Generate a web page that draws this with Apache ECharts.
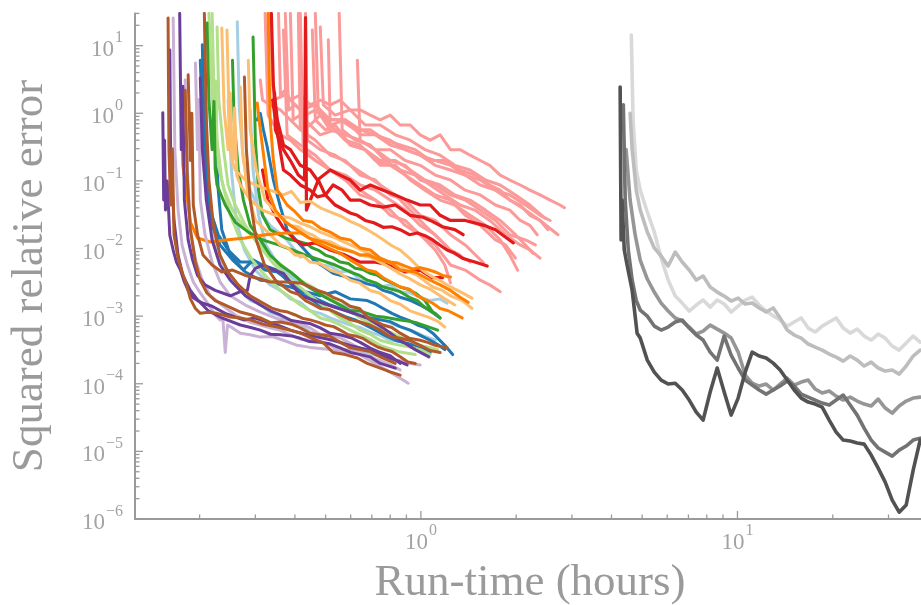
<!DOCTYPE html>
<html>
<head>
<meta charset="utf-8">
<script src="https://cdn.jsdelivr.net/npm/echarts@6/dist/echarts.min.js"></script>
<style>
  html, body { margin: 0; padding: 0; background: #ffffff; }
  #chart { width: 921px; height: 605px; }
</style>
</head>
<body>
<div id="chart"></div>
<script>
// Axis ranges (hours on x, squared relative error on y)
const xRange = [0.125, 38];
const yRange = [1e-6, 30];

// Tick positions
const xMajorTicks = [1, 10];
const xMinorTicks = [0.2, 0.3, 0.4, 0.5, 0.6, 0.7, 0.8, 0.9, 2, 3, 4, 5, 6, 7, 8, 9, 20, 30];
const yMajorTicks = [1e-6, 1e-5, 1e-4, 1e-3, 1e-2, 1e-1, 1, 10];
const yMinorMultipliers = [2, 3, 4, 5, 6, 7, 8, 9];

// Runs, grouped by configuration: each run is a list of [hours, error]
const lightBlueRuns = [
  [[0.263,22.5],[0.267,1.12],[0.275,0.2],[0.289,0.073],[0.311,0.0347],[0.334,0.022],[0.373,0.0143],[0.416,0.0075],[0.447,0.008],[0.481,0.0057],[0.517,0.0055],[0.556,0.0045],[0.598,0.0047],[0.643,0.0034],[0.692,0.0033],[0.744,0.0027],[0.8,0.0029],[0.86,0.0023],[0.925,0.0022],[0.995,0.0019],[1.07,0.0017],[1.15,0.0018],[1.21,0.00155]],
  [[0.205,4.0],[0.208,0.29],[0.213,0.052],[0.221,0.016],[0.232,0.0068],[0.259,0.0029],[0.289,0.0017],[0.311,0.0015],[0.334,0.00114],[0.36,0.001],[0.387,8.2e-4],[0.416,7.6e-4],[0.447,5.8e-4],[0.481,5.4e-4],[0.517,4.4e-4],[0.556,4.1e-4],[0.598,3.5e-4],[0.643,3.1e-4],[0.692,2.7e-4],[0.744,2.6e-4],[0.818,2.2e-4]],
  [[0.246,1.57],[0.252,0.145],[0.261,0.026],[0.277,0.0095],[0.3,0.0048],[0.334,0.0029],[0.36,0.0024],[0.387,0.0018],[0.416,0.0016],[0.447,0.0012],[0.481,0.0011],[0.517,9.4e-4],[0.556,8.3e-4],[0.598,7.4e-4],[0.643,6.8e-4],[0.692,5.8e-4],[0.744,5.2e-4],[0.8,4.4e-4],[0.86,4.3e-4],[0.925,4.0e-4],[1.0,3.6e-4],[1.07,3.4e-4]],
  [[0.289,1.12],[0.295,0.145],[0.307,0.031],[0.324,0.0113],[0.355,0.0057],[0.38,0.0042],[0.401,0.0034],[0.43,0.0029],[0.464,0.0023],[0.5,0.0019],[0.536,0.0016],[0.577,0.0014],[0.62,0.0012],[0.667,0.0011],[0.718,9.4e-4],[0.77,8.6e-4],[0.83,7.4e-4],[0.89,6.6e-4],[0.96,5.8e-4],[1.03,5.0e-4],[1.11,4.4e-4]]
];

const blueRuns = [
  [[0.204,10.3],[0.207,0.4],[0.209,1.3],[0.21,0.12],[0.211,0.073],[0.219,0.022],[0.232,0.0113],[0.254,0.0068],[0.279,0.0045],[0.311,0.0034],[0.335,0.0033],[0.36,0.0029],[0.387,0.0027],[0.416,0.0024],[0.447,0.0022],[0.481,0.002],[0.536,0.0023],[0.598,0.0018],[0.677,0.0017],[0.72,0.0015],[0.76,0.0013],[0.81,0.0011],[0.86,9.7e-4],[0.92,8.6e-4],[0.975,7.4e-4],[1.03,6.8e-4],[1.09,5.6e-4],[1.19,3.7e-4],[1.26,2.7e-4]],
  [[0.304,0.8],[0.311,1.0],[0.318,0.57],[0.327,0.317],[0.342,0.103],[0.36,0.041],[0.378,0.019],[0.407,0.0126],[0.43,0.0095],[0.457,0.0068],[0.49,0.0055],[0.528,0.0043],[0.56,0.004],[0.598,0.0036],[0.64,0.0033],[0.677,0.003],[0.72,0.0028],[0.76,0.0024],[0.81,0.0022],[0.86,0.0019],[0.93,0.0017],[0.995,0.00146],[1.07,0.0012],[1.15,9.4e-4]],
  [[0.201,6.1],[0.204,0.8],[0.208,0.145],[0.216,0.037],[0.229,0.016],[0.246,0.0095],[0.269,0.0063],[0.295,0.0063],[0.322,0.0048],[0.352,0.0045],[0.387,0.0032],[0.416,0.0026],[0.447,0.002],[0.481,0.0017],[0.517,0.00146],[0.556,0.0013],[0.598,0.00115],[0.643,0.001],[0.692,9.4e-4],[0.744,8.8e-4],[0.8,8.3e-4],[0.86,7.0e-4],[0.925,6.2e-4],[0.995,5.2e-4],[1.07,4.4e-4],[1.13,3.8e-4],[1.19,3.2e-4]],
  [[0.224,0.57],[0.229,0.073],[0.235,0.019],[0.25,0.008],[0.275,0.0048],[0.295,0.0068],[0.316,0.0057],[0.352,0.0048],[0.375,0.0035],[0.401,0.0026],[0.43,0.002],[0.464,0.0016],[0.5,0.0013],[0.536,0.00115],[0.577,9.8e-4],[0.62,8.8e-4],[0.667,7.4e-4],[0.718,6.2e-4],[0.77,5.2e-4],[0.83,4.4e-4],[0.89,4.0e-4],[0.96,3.7e-4],[1.07,2.9e-4]]
];

const lightGreenRuns = [
  [[0.214,30],[0.218,3.1],[0.222,0.57],[0.225,3.0],[0.227,0.3],[0.229,0.17],[0.239,0.073],[0.254,0.037],[0.273,0.022],[0.3,0.0134],[0.334,0.008],[0.373,0.0051],[0.416,0.0034],[0.447,0.0028],[0.481,0.0023],[0.517,0.0018],[0.556,0.00146],[0.598,0.0012],[0.643,9.4e-4],[0.692,8.0e-4],[0.728,6.7e-4],[0.8,5.8e-4],[0.86,4.9e-4],[0.925,4.3e-4],[0.995,3.7e-4],[1.07,3.4e-4],[1.13,3.2e-4]],
  [[0.227,18.9],[0.23,1.57],[0.238,0.29],[0.246,0.087],[0.259,0.044],[0.279,0.022],[0.307,0.0113],[0.339,0.0063],[0.381,0.0037],[0.432,0.0023],[0.488,0.00146],[0.556,9.4e-4],[0.6,7.8e-4],[0.643,6.2e-4],[0.692,5.4e-4],[0.744,4.4e-4],[0.8,4.0e-4],[0.86,3.7e-4],[0.925,3.5e-4],[0.995,3.2e-4],[1.07,2.7e-4]],
  [[0.219,30],[0.222,2.2],[0.227,0.4],[0.235,0.103],[0.25,0.031],[0.269,0.0134],[0.293,0.0068],[0.322,0.004],[0.36,0.0024],[0.387,0.0019],[0.416,0.00146],[0.447,0.0012],[0.481,9.4e-4],[0.517,8.6e-4],[0.556,7.4e-4],[0.598,6.2e-4],[0.643,5.3e-4],[0.692,4.5e-4],[0.744,3.7e-4],[0.8,3.3e-4],[0.86,2.94e-4],[0.96,2.7e-4]]
];

const greenRuns = [
  [[0.211,21.7],[0.214,1.57],[0.219,0.29],[0.222,1.5],[0.224,0.15],[0.227,0.087],[0.241,0.044],[0.259,0.0246],[0.285,0.0175],[0.316,0.0134],[0.355,0.0113],[0.393,0.0095],[0.432,0.008],[0.481,0.0068],[0.536,0.0057],[0.598,0.0045],[0.64,0.004],[0.677,0.0034],[0.72,0.0031],[0.76,0.0027],[0.81,0.0025],[0.86,0.0023],[0.92,0.0019],[0.975,0.0017],[1.02,0.0014],[1.07,0.0012],[1.11,0.0011],[1.15,9.4e-4]],
  [[0.254,6.1],[0.257,0.8],[0.265,0.145],[0.275,0.052],[0.289,0.022],[0.311,0.0134],[0.334,0.008],[0.36,0.0057],[0.387,0.0045],[0.41,0.0036],[0.432,0.0029],[0.455,0.0025],[0.481,0.0021],[0.51,0.0018],[0.536,0.0016],[0.565,0.0014],[0.598,0.0012],[0.64,0.0012],[0.677,0.0011],[0.72,0.001],[0.76,9.7e-4],[0.81,9.2e-4],[0.86,8.8e-4],[0.92,8.4e-4],[0.975,7.9e-4],[1.05,7.0e-4],[1.13,6.2e-4]],
  [[0.295,13.4],[0.3,0.4],[0.307,0.073],[0.316,0.031],[0.334,0.019],[0.373,0.0143],[0.39,0.0135],[0.416,0.0125],[0.435,0.0118],[0.454,0.0102],[0.475,0.0094],[0.499,0.008],[0.525,0.0074],[0.556,0.0063],[0.59,0.006],[0.62,0.0051],[0.655,0.0049],[0.692,0.0043],[0.73,0.004],[0.772,0.0034],[0.81,0.0031],[0.86,0.0027],[0.91,0.0025],[0.96,0.0022],[1.03,0.0017],[1.09,0.00115]]
];

const pinkRuns = [
  [[0.355,30],[0.36,1.87],[0.373,2.2],[0.387,1.57],[0.416,1.87],[0.447,1.33],[0.481,1.57],[0.517,1.33],[0.556,1.57],[0.598,1.12],[0.643,1.12],[0.692,0.94],[0.744,0.8],[0.8,0.94],[0.86,0.67],[0.925,0.67],[0.995,0.48],[1.07,0.4],[1.15,0.48],[1.24,0.29],[1.33,0.29],[1.43,0.24],[1.54,0.2],[1.65,0.17],[1.78,0.122],[1.91,0.103],[2.06,0.087],[2.21,0.073],[2.38,0.062],[2.56,0.052],[2.75,0.044],[2.84,0.04]],
  [[0.373,30],[0.382,1.12],[0.401,1.33],[0.432,0.94],[0.464,1.12],[0.499,0.8],[0.556,0.8],[0.62,0.57],[0.692,0.57],[0.772,0.4],[0.86,0.34],[0.96,0.29],[1.07,0.2],[1.19,0.2],[1.33,0.145],[1.48,0.122],[1.65,0.087],[1.78,0.073],[1.91,0.052],[2.06,0.044],[2.21,0.031],[2.38,0.026],[2.52,0.019]],
  [[0.387,30],[0.395,0.8],[0.416,0.94],[0.447,0.67],[0.481,0.94],[0.517,0.57],[0.577,0.48],[0.643,0.4],[0.718,0.29],[0.8,0.29],[0.892,0.2],[0.995,0.17],[1.11,0.122],[1.24,0.103],[1.38,0.073],[1.54,0.062],[1.72,0.044],[1.91,0.037],[2.06,0.026],[2.21,0.022],[2.33,0.016]],
  [[0.41,30],[0.416,0.57],[0.447,0.67],[0.481,0.48],[0.536,0.57],[0.598,0.34],[0.667,0.29],[0.744,0.2],[0.83,0.2],[0.925,0.145],[1.03,0.103],[1.15,0.087],[1.28,0.062],[1.43,0.052],[1.6,0.037],[1.78,0.026],[1.99,0.016],[2.14,0.0113],[2.26,0.0085]],
  [[0.454,17],[0.464,0.8],[0.499,0.57],[0.536,0.67],[0.598,0.34],[0.667,0.29],[0.744,0.17],[0.83,0.17],[0.925,0.103],[1.03,0.073],[1.15,0.052],[1.28,0.044],[1.43,0.031],[1.6,0.022],[1.78,0.0134],[1.91,0.008],[2.02,0.0048]],
  [[0.481,18.9],[0.492,1.33],[0.536,0.94],[0.598,1.12],[0.667,0.67],[0.744,0.67],[0.83,0.48],[0.925,0.4],[1.03,0.29],[1.15,0.24],[1.28,0.17],[1.43,0.145],[1.6,0.103],[1.78,0.087],[1.99,0.062],[2.21,0.044],[2.47,0.028]],
  [[0.51,12.2],[0.517,0.67],[0.577,0.4],[0.643,0.34],[0.718,0.2],[0.8,0.17],[0.892,0.122],[0.995,0.087],[1.11,0.062],[1.24,0.052],[1.38,0.031],[1.54,0.022],[1.72,0.0134],[1.85,0.0113],[1.99,0.0072]],
  [[0.552,30],[0.564,0.57],[0.62,0.4],[0.692,0.34],[0.772,0.2],[0.86,0.145],[0.96,0.122],[1.07,0.087],[1.19,0.062],[1.33,0.044],[1.48,0.037],[1.65,0.026],[1.85,0.016],[2.06,0.0113],[2.21,0.0095],[2.38,0.0072]],
  [[0.63,6.1],[0.643,0.4],[0.718,0.29],[0.8,0.2],[0.892,0.17],[0.995,0.103],[1.11,0.087],[1.24,0.062],[1.38,0.052],[1.54,0.037],[1.72,0.026],[1.91,0.016],[2.14,0.0134],[2.3,0.0113]],
  [[0.311,3.1],[0.316,1.57],[0.334,1.33],[0.36,1.12],[0.387,0.8],[0.416,0.57],[0.464,0.4],[0.517,0.24],[0.577,0.2],[0.643,0.122],[0.718,0.103],[0.8,0.062],[0.892,0.052],[0.995,0.031],[1.11,0.026],[1.24,0.016],[1.38,0.0113],[1.58,0.0061]],
  [[0.322,30],[0.329,0.94],[0.36,0.48],[0.387,0.4],[0.416,0.29],[0.464,0.2],[0.517,0.145],[0.577,0.122],[0.643,0.087],[0.718,0.073],[0.8,0.052],[0.892,0.037],[0.995,0.022],[1.11,0.016],[1.24,0.0095],[1.43,0.0063]],
  [[0.416,30],[0.425,0.29],[0.464,0.2],[0.517,0.145],[0.577,0.103],[0.643,0.062],[0.718,0.052],[0.8,0.031],[0.892,0.026],[0.995,0.016],[1.11,0.0113],[1.24,0.0057],[1.38,0.0048],[1.54,0.0034],[1.65,0.0029],[1.78,0.0023]],
  [[0.432,30],[0.438,0.4],[0.481,0.29],[0.536,0.24],[0.598,0.17],[0.667,0.122],[0.744,0.087],[0.83,0.062],[0.925,0.037],[1.03,0.022],[1.15,0.0134],[1.24,0.0095],[1.33,0.008]],
  [[0.368,17],[0.378,0.48],[0.416,0.34],[0.464,0.24],[0.517,0.145],[0.577,0.103],[0.643,0.073],[0.718,0.052],[0.8,0.037],[0.892,0.022],[0.995,0.016],[1.11,0.0095],[1.19,0.0057],[1.24,0.0031]],
  [[0.334,30],[0.342,1.57],[0.373,1.87],[0.416,1.12],[0.464,1.33],[0.517,0.8],[0.577,0.8],[0.643,0.57],[0.718,0.48],[0.8,0.4],[0.892,0.29],[0.995,0.24],[1.11,0.2],[1.24,0.17],[1.38,0.122],[1.54,0.103],[1.72,0.073],[1.91,0.062],[2.14,0.044],[2.38,0.031],[2.56,0.026]],
  [[0.464,30],[0.474,1.12],[0.517,0.67],[0.577,0.8],[0.643,0.48],[0.718,0.48],[0.8,0.34],[0.892,0.29],[0.995,0.24],[1.11,0.17],[1.24,0.145],[1.38,0.122],[1.54,0.087],[1.72,0.073],[1.91,0.052],[2.14,0.037],[2.38,0.026],[2.71,0.016]]
];

const redRuns = [
  [[0.337,30],[0.342,2.6],[0.352,0.8],[0.368,0.34],[0.387,0.29],[0.416,0.17],[0.447,0.145],[0.471,0.103],[0.517,0.145],[0.556,0.122],[0.598,0.103],[0.643,0.073],[0.692,0.087],[0.76,0.073],[0.83,0.062],[0.905,0.052],[0.995,0.044],[1.07,0.044],[1.15,0.031],[1.24,0.026],[1.38,0.026],[1.58,0.022],[1.72,0.019],[1.96,0.0121]],
  [[0.345,2.0],[0.347,0.57],[0.368,0.29],[0.387,0.2],[0.41,0.122],[0.429,0.103],[0.432,26],[0.435,0.037],[0.454,0.062],[0.474,0.103],[0.499,0.062],[0.528,0.087],[0.564,0.073],[0.598,0.052],[0.643,0.052],[0.692,0.044],[0.76,0.041],[0.83,0.044],[0.925,0.031],[1.015,0.029],[1.09,0.025],[1.17,0.021],[1.28,0.019],[1.36,0.016]],
  [[0.34,1.57],[0.355,0.4],[0.368,0.145],[0.387,0.122],[0.416,0.087],[0.447,0.073],[0.471,0.058],[0.499,0.062],[0.536,0.044],[0.598,0.0335],[0.63,0.031],[0.667,0.026],[0.71,0.024],[0.76,0.0206],[0.81,0.021],[0.86,0.019],[0.92,0.016],[0.975,0.017],[1.03,0.0155],[1.09,0.0134],[1.15,0.0112],[1.21,0.0095],[1.28,0.0085],[1.36,0.0071],[1.48,0.0063],[1.62,0.0055]],
  [[0.316,0.145],[0.329,0.052],[0.347,0.031],[0.368,0.0201],[0.401,0.0134],[0.425,0.0113],[0.464,0.0121],[0.517,0.0095],[0.577,0.008],[0.643,0.0063],[0.718,0.0063],[0.8,0.0057],[0.892,0.0045],[0.995,0.0048],[1.085,0.0037],[1.17,0.0037]]
];

const lightOrangeRuns = [
  [[0.235,18.3],[0.239,1.12],[0.246,0.29],[0.25,2.0],[0.253,0.2],[0.259,0.145],[0.279,0.103],[0.3,0.087],[0.334,0.073],[0.368,0.062],[0.39,0.07],[0.416,0.048],[0.447,0.05],[0.481,0.04],[0.528,0.0335],[0.56,0.03],[0.6,0.025],[0.64,0.022],[0.677,0.019],[0.72,0.016],[0.76,0.0135],[0.81,0.011],[0.86,0.0095],[0.92,0.0072],[0.975,0.0055],[1.03,0.0045],[1.09,0.0038],[1.17,0.0032],[1.24,0.0027],[1.33,0.0023],[1.45,0.00185]],
  [[0.244,17.1],[0.248,0.8],[0.255,0.2],[0.258,1.2],[0.262,0.12],[0.269,0.087],[0.289,0.052],[0.316,0.037],[0.347,0.031],[0.387,0.0283],[0.416,0.0238],[0.447,0.021],[0.481,0.0175],[0.528,0.0148],[0.57,0.0125],[0.6,0.0113],[0.64,0.0098],[0.677,0.0086],[0.72,0.0078],[0.76,0.0068],[0.81,0.006],[0.86,0.0052],[0.92,0.0045],[0.975,0.004],[1.03,0.0033],[1.09,0.0027],[1.17,0.0024],[1.24,0.002],[1.35,0.0017],[1.45,0.0013]],
  [[0.269,2.45],[0.273,0.29],[0.283,0.073],[0.3,0.026],[0.322,0.019],[0.36,0.0113],[0.38,0.0102],[0.401,0.008],[0.425,0.0078],[0.447,0.0063],[0.48,0.006],[0.517,0.0048],[0.555,0.0043],[0.598,0.0034],[0.64,0.0031],[0.692,0.0024],[0.74,0.0022],[0.8,0.0017],[0.86,0.0015],[0.925,0.0012],[1.0,0.00105],[1.07,9.4e-4],[1.13,8.4e-4],[1.19,6.9e-4]],
  [[0.285,6.1],[0.289,0.57],[0.302,0.145],[0.322,0.052],[0.355,0.031],[0.387,0.022],[0.41,0.021],[0.432,0.0175],[0.455,0.0158],[0.481,0.0134],[0.52,0.0125],[0.556,0.0105],[0.6,0.0093],[0.643,0.008],[0.69,0.0075],[0.744,0.0063],[0.8,0.0052],[0.86,0.0042],[0.92,0.0036],[0.995,0.0029],[1.07,0.0025],[1.15,0.002],[1.28,0.00146]]
];

const orangeRuns = [
  [[0.329,30],[0.334,0.8],[0.342,0.2],[0.352,0.073],[0.378,0.044],[0.401,0.0347],[0.425,0.026],[0.454,0.0246],[0.481,0.0201],[0.517,0.0175],[0.556,0.0143],[0.598,0.0134],[0.643,0.0102],[0.692,0.0095],[0.744,0.0072],[0.8,0.0063],[0.86,0.0048],[0.96,0.0045],[1.07,0.0034],[1.15,0.0029],[1.24,0.0024],[1.33,0.0019],[1.41,0.0016]],
  [[0.175,0.8],[0.177,0.17],[0.183,0.052],[0.187,0.0246],[0.197,0.0143],[0.216,0.0125],[0.241,0.0134],[0.279,0.0143],[0.322,0.016],[0.373,0.017],[0.416,0.017],[0.44,0.0148],[0.464,0.0125],[0.528,0.0095],[0.56,0.0083],[0.598,0.0068],[0.677,0.0048],[0.72,0.0045],[0.76,0.0037],[0.86,0.0027],[0.92,0.0025],[0.975,0.002],[1.09,0.00155],[1.15,0.0013],[1.22,0.0012],[1.35,9.4e-4]],
  [[0.304,1.42],[0.311,0.57],[0.32,0.2],[0.329,0.073],[0.347,0.037],[0.373,0.0246],[0.416,0.0175],[0.44,0.0145],[0.464,0.0134],[0.49,0.0125],[0.517,0.0113],[0.545,0.0102],[0.577,0.0095],[0.61,0.0089],[0.643,0.008],[0.68,0.0081],[0.718,0.0072],[0.76,0.0066],[0.8,0.0063],[0.845,0.0061],[0.892,0.0055],[0.94,0.005],[0.995,0.0052],[1.05,0.0049],[1.11,0.0045],[1.17,0.004],[1.24,0.0038]]
];

const lightPurpleRuns = [
  [[0.165,25.7],[0.167,0.29],[0.171,0.037],[0.176,0.0113],[0.183,0.0057],[0.191,0.0032],[0.201,0.0022],[0.213,0.0015],[0.224,0.00104],[0.232,8.8e-4],[0.237,8.8e-4],[0.241,2.9e-4],[0.245,7.4e-4],[0.254,6.7e-4],[0.269,5.6e-4],[0.289,5.3e-4],[0.311,4.9e-4],[0.339,5.0e-4],[0.368,4.4e-4],[0.407,3.7e-4],[0.447,3.45e-4],[0.517,3.2e-4],[0.577,2.9e-4],[0.63,2.8e-4],[0.692,2.2e-4],[0.76,1.7e-4],[0.83,1.34e-4],[0.912,1.02e-4]],
  [[0.194,5.55],[0.197,0.29],[0.199,1.6],[0.201,0.052],[0.208,0.016],[0.219,0.0063],[0.232,0.0032],[0.25,0.002],[0.279,0.00146],[0.311,0.00115],[0.347,9.4e-4],[0.387,8.1e-4],[0.42,7.6e-4],[0.447,6.7e-4],[0.48,5.4e-4],[0.517,5.3e-4],[0.555,4.8e-4],[0.598,4.0e-4],[0.645,3.3e-4],[0.692,3.2e-4],[0.745,2.9e-4],[0.8,2.3e-4],[0.86,2.2e-4],[0.925,2.0e-4],[0.995,1.9e-4]],
  [[0.18,3.1],[0.183,0.145],[0.187,0.019],[0.194,0.0068],[0.204,0.0034],[0.216,0.002],[0.235,0.00146],[0.259,0.00104],[0.289,8.1e-4],[0.334,6.7e-4],[0.36,6.2e-4],[0.387,5.3e-4],[0.415,4.6e-4],[0.447,4.4e-4],[0.48,4.3e-4],[0.517,3.7e-4],[0.555,3.1e-4],[0.598,3.2e-4],[0.645,2.9e-4],[0.692,2.5e-4],[0.745,2.2e-4],[0.8,1.9e-4],[0.86,1.6e-4]]
];

const purpleRuns = [
  [[0.153,1.02],[0.154,0.052],[0.155,0.4],[0.156,0.037],[0.158,0.1],[0.161,0.0158],[0.165,0.0095],[0.169,0.0063],[0.174,0.0048],[0.179,0.0032],[0.184,0.0024],[0.19,0.0019],[0.197,0.0017],[0.205,0.00155],[0.219,0.0014],[0.241,0.0011],[0.275,8.8e-4],[0.3,9.4e-4],[0.327,8.2e-4],[0.36,7.1e-4],[0.387,6.2e-4],[0.432,5.4e-4],[0.471,4.9e-4],[0.528,4.4e-4],[0.598,3.7e-4],[0.677,3.2e-4],[0.772,2.5e-4],[0.842,2.2e-4],[0.905,1.9e-4]],
  [[0.173,30],[0.175,0.29],[0.177,2.5],[0.179,0.052],[0.184,0.0134],[0.19,0.0068],[0.197,0.004],[0.208,0.0029],[0.224,0.0024],[0.25,0.002],[0.269,0.0023],[0.283,0.0024],[0.289,0.004],[0.3,0.0051],[0.316,0.0057],[0.334,0.0051],[0.368,0.0043],[0.393,0.0029],[0.416,0.002],[0.464,0.0017],[0.528,0.00137],[0.598,0.00115],[0.677,9.4e-4],[0.76,6.7e-4],[0.86,4.4e-4],[0.96,3.2e-4],[1.06,2.5e-4]],
  [[0.201,3.33],[0.204,0.29],[0.21,0.052],[0.219,0.0134],[0.232,0.0057],[0.25,0.0034],[0.279,0.002],[0.311,0.00146],[0.335,0.0012],[0.36,0.00104],[0.39,8.6e-4],[0.416,8.2e-4],[0.445,7.8e-4],[0.481,6.7e-4],[0.515,5.6e-4],[0.556,5.3e-4],[0.6,4.8e-4],[0.643,4.1e-4],[0.69,3.4e-4],[0.744,2.9e-4],[0.8,2.6e-4],[0.86,2.0e-4]],
  [[0.161,8.6],[0.162,0.2],[0.166,0.026],[0.171,0.008],[0.177,0.004],[0.187,0.0024],[0.198,0.0017],[0.213,0.0012],[0.235,9.4e-4],[0.269,7.4e-4],[0.29,6.8e-4],[0.311,6.2e-4],[0.335,5.4e-4],[0.36,5.3e-4],[0.39,5.1e-4],[0.416,4.7e-4],[0.445,4.2e-4],[0.481,4.1e-4],[0.515,3.9e-4],[0.556,3.4e-4],[0.6,2.9e-4],[0.643,2.7e-4],[0.69,2.5e-4],[0.744,2.0e-4],[0.83,1.7e-4]]
];

const brownRuns = [
  [[0.159,25.7],[0.16,0.29],[0.162,0.044],[0.164,0.3],[0.166,0.016],[0.171,0.0072],[0.176,0.0045],[0.182,0.0029],[0.187,0.0018],[0.194,0.0013],[0.201,0.0011],[0.213,0.00114],[0.227,0.0011],[0.25,9.7e-4],[0.269,9.4e-4],[0.289,8.8e-4],[0.318,7.6e-4],[0.352,6.9e-4],[0.387,6.2e-4],[0.416,5.6e-4],[0.454,4.7e-4],[0.492,4.0e-4],[0.528,2.9e-4],[0.577,2.7e-4],[0.63,2.4e-4],[0.677,2.0e-4],[0.744,1.7e-4],[0.8,1.5e-4],[0.86,1.34e-4]],
  [[0.184,3.7],[0.187,0.2],[0.189,1.0],[0.191,0.044],[0.197,0.016],[0.205,0.008],[0.219,0.0057],[0.235,0.0045],[0.254,0.0048],[0.279,0.004],[0.307,0.0036],[0.334,0.0032],[0.373,0.0032],[0.416,0.0031],[0.44,0.0028],[0.471,0.0024],[0.5,0.0022],[0.528,0.0019],[0.56,0.0017],[0.598,0.0014],[0.64,0.0013],[0.677,9.7e-4],[0.72,8.4e-4],[0.76,7.4e-4],[0.81,6.8e-4],[0.86,5.6e-4],[0.92,4.7e-4],[0.995,4.4e-4],[1.05,4.1e-4],[1.11,3.7e-4],[1.21,3.4e-4]],
  [[0.207,30],[0.21,0.8],[0.214,0.103],[0.221,0.022],[0.232,0.008],[0.246,0.0045],[0.265,0.0029],[0.289,0.002],[0.322,0.0015],[0.34,0.0013],[0.36,0.0012],[0.38,0.00115],[0.401,0.00104],[0.425,9.2e-4],[0.447,8.8e-4],[0.475,8.1e-4],[0.499,7.4e-4],[0.53,7.0e-4],[0.556,6.2e-4],[0.59,5.3e-4],[0.62,5.1e-4],[0.655,4.7e-4],[0.692,4.0e-4],[0.73,3.5e-4],[0.772,3.2e-4],[0.81,3.0e-4],[0.86,2.5e-4],[0.91,2.1e-4],[0.96,2.0e-4]],
  [[0.277,3.44],[0.281,0.29],[0.289,0.052],[0.302,0.0134],[0.32,0.0059],[0.347,0.0034],[0.387,0.0023],[0.41,0.0021],[0.432,0.0017],[0.455,0.0015],[0.481,0.0013],[0.515,0.00125],[0.556,0.00104],[0.6,8.8e-4],[0.643,8.2e-4],[0.69,7.4e-4],[0.744,6.2e-4],[0.8,5.0e-4],[0.86,4.7e-4],[0.92,4.4e-4],[0.995,3.7e-4],[1.07,3.1e-4],[1.15,2.9e-4]],
  [[0.18,2.2],[0.183,0.103],[0.187,0.019],[0.194,0.0063],[0.201,0.0034],[0.211,0.0022],[0.224,0.0017],[0.241,0.00146],[0.269,0.00115],[0.29,1.05e-3],[0.311,9.4e-4],[0.335,8.0e-4],[0.36,8.2e-4],[0.39,7.6e-4],[0.416,6.7e-4],[0.445,5.6e-4],[0.481,5.3e-4],[0.515,5.1e-4],[0.556,4.1e-4],[0.6,3.4e-4],[0.643,3.2e-4],[0.69,3.0e-4],[0.744,2.5e-4],[0.83,2.0e-4]]
];

// Long baseline runs, lightest to darkest
const baselineRuns = [
  [[4.62,14.4],[4.68,0.8],[4.79,0.145],[4.93,0.0733],[5.19,0.0347],[5.46,0.0176],[5.74,0.00724],[6.04,0.00342],[6.36,0.00198],[6.69,0.00156],[7.04,0.00119],[7.41,0.00146],[7.79,0.00173],[8.20,0.00136],[8.63,0.00173],[9.08,0.00151],[9.55,0.00115],[10.05,0.00141],[10.58,0.00173],[11.13,0.00191],[11.71,0.00146],[12.32,0.00119],[12.97,0.00101],[13.64,8.76e-4],[14.36,7.13e-4],[15.11,8.18e-4],[15.90,9.39e-4],[16.73,6.66e-4],[17.60,5.82e-4],[18.52,7.13e-4],[19.49,8.18e-4],[20.50,9.39e-4],[21.58,6.66e-4],[22.70,5.62e-4],[23.89,6.44e-4],[25.13,5.07e-4],[26.45,4.43e-4],[27.83,5.44e-4],[29.29,4.74e-4],[30.82,3.61e-4],[32.42,3.15e-4],[34.12,4.0e-4],[35.90,5.07e-4],[37.77,4.14e-4]],
  [[4.58,1.0],[4.65,0.29],[4.79,0.073],[4.93,0.0371],[5.19,0.0176],[5.46,0.0102],[5.74,0.00775],[6.04,0.00551],[6.36,0.00887],[6.69,0.00631],[7.04,0.00481],[7.41,0.00342],[7.79,0.00392],[8.20,0.00269],[8.63,0.00227],[9.08,0.00198],[9.55,0.00167],[10.05,0.00185],[10.58,0.00151],[11.13,0.00156],[11.71,0.00132],[12.32,0.00115],[12.97,0.00132],[13.64,9.39e-4],[14.36,6.23e-4],[15.11,5.25e-4],[15.90,4.74e-4],[16.73,3.87e-4],[17.60,3.49e-4],[18.52,3.15e-4],[19.49,2.75e-4],[20.50,2.48e-4],[21.58,2.16e-4],[22.70,2.57e-4],[23.89,2.24e-4],[25.13,1.83e-4],[26.45,2.09e-4],[27.83,1.71e-4],[29.29,1.54e-4],[30.82,1.595e-4],[32.42,1.39e-4],[34.12,1.83e-4],[35.90,2.57e-4],[37.77,3.15e-4]],
  [[4.45,0.29],[4.58,0.052],[4.75,0.016],[4.93,0.00676],[5.19,0.00354],[5.46,0.00227],[5.74,0.00156],[6.04,0.00119],[6.36,9.39e-4],[6.69,8.47e-4],[7.04,6.89e-4],[7.41,5.44e-4],[7.79,6.02e-4],[8.20,7.38e-4],[8.63,6.44e-4],[9.08,5.62e-4],[9.55,4.74e-4],[10.05,2.94e-4],[10.58,1.345e-4],[11.13,1.02e-4],[11.71,9.25e-5],[12.32,9.9e-5],[12.97,8.07e-5],[13.64,9.9e-5],[14.36,1.21e-4],[15.11,9.57e-5],[15.90,1.06e-4],[16.73,1.134e-4],[17.60,8.35e-5],[18.52,7.29e-5],[19.49,7.8e-5],[20.50,6.57e-5],[21.58,5.74e-5],[22.70,6.35e-5],[23.89,5.55e-5],[25.13,5.01e-5],[26.45,4.68e-5],[27.83,5.93e-5],[29.29,4.37e-5],[30.82,3.68e-5],[32.42,4.68e-5],[34.12,5.55e-5],[35.90,6.14e-5],[37.77,6.35e-5]],
  [[4.36,1.33],[4.42,0.052],[4.52,0.0095],[4.65,0.0034],[4.79,0.0017],[4.93,0.00123],[5.19,0.001],[5.46,7.13e-4],[5.74,6.23e-4],[6.04,6.89e-4],[6.36,8.18e-4],[6.69,8.76e-4],[7.04,6.66e-4],[7.41,5.25e-4],[7.79,4.43e-4],[8.20,2.94e-4],[8.63,2.24e-4],[9.08,5.07e-4],[9.55,2.66e-4],[10.05,1.71e-4],[10.58,1.134e-4],[11.13,9.57e-5],[11.71,8.07e-5],[12.32,7.04e-5],[12.97,8.07e-5],[13.64,9.25e-5],[14.36,1.10e-4],[15.11,9.25e-5],[15.90,7.04e-5],[16.73,6.35e-5],[17.60,5.74e-5],[18.52,5.18e-5],[19.49,4.84e-5],[20.50,5.74e-5],[21.58,6.80e-5],[22.70,4.84e-5],[23.89,3.44e-5],[25.13,2.21e-5],[26.45,1.47e-5],[27.83,1.12e-5],[29.29,9.76e-6],[30.82,8.52e-6],[32.42,1.045e-5],[34.12,1.2e-5],[35.90,1.47e-5],[37.77,1.57e-5]],
  [[4.26,2.45],[4.29,0.0134],[4.32,0.052],[4.39,0.0095],[4.48,0.0057],[4.65,0.0024],[4.82,5.6e-4],[4.93,4.74e-4],[5.19,2.24e-4],[5.46,1.49e-4],[5.74,1.134e-4],[6.04,9.9e-5],[6.36,1.02e-4],[6.69,8.07e-5],[7.04,5.74e-5],[7.41,3.81e-5],[7.79,2.9e-5],[8.20,7.54e-5],[8.63,1.71e-4],[9.08,7.54e-5],[9.55,3.44e-5],[10.05,6.14e-5],[10.58,1.49e-4],[11.13,2.94e-4],[11.71,2.57e-4],[12.32,2.40e-4],[12.97,2.02e-4],[13.64,1.595e-4],[14.36,1.134e-4],[15.11,8.07e-5],[15.90,6.14e-5],[16.73,5.36e-5],[17.60,5.01e-5],[18.52,4.52e-5],[19.49,2.9e-5],[20.50,1.93e-5],[21.58,1.47e-5],[22.70,1.42e-5],[23.89,1.33e-5],[25.13,1.28e-5],[26.45,8.82e-6],[27.83,5.66e-6],[29.29,3.51e-6],[30.82,1.90e-6],[32.42,1.26e-6],[34.12,1.61e-6],[35.90,5.29e-6],[37.77,1.47e-5]]
];

// Styling
const AXIS_COLOR = '#9a9a9a';
const LABEL_COLOR = '#a3a3a3';
const TITLE_COLOR = '#9a9a9a';
const SERIF = "'Liberation Serif', 'DejaVu Serif', serif";

const groups = [
  { runs: lightBlueRuns,   color: '#a6cee3', width: 3 },
  { runs: blueRuns,        color: '#1f78b4', width: 3 },
  { runs: lightGreenRuns,  color: '#b2df8a', width: 3 },
  { runs: greenRuns,       color: '#33a02c', width: 3 },
  { runs: pinkRuns,        color: '#fb9a99', width: 3 },
  { runs: redRuns,         color: '#e31a1c', width: 3.2 },
  { runs: lightOrangeRuns, color: '#fdbf6f', width: 3 },
  { runs: orangeRuns,      color: '#ff7f00', width: 3 },
  { runs: lightPurpleRuns, color: '#cab2d6', width: 3 },
  { runs: purpleRuns,      color: '#6a3d9a', width: 3 },
  { runs: brownRuns,       color: '#b15928', width: 3 }
];
const baselineColors = ['#d9d9d9', '#bdbdbd', '#969696', '#737373', '#525252'];

const series = [];
groups.forEach(g => {
  g.runs.forEach(run => {
    series.push({
      type: 'line', data: run, symbol: 'none', showSymbol: false, silent: true,
      clip: true, z: 2,
      lineStyle: { color: g.color, width: g.width, join: 'round', cap: 'round' }
    });
  });
});
baselineRuns.forEach((run, i) => {
  series.push({
    type: 'line', data: run, symbol: 'none', showSymbol: false, silent: true,
    clip: true, z: 2,
    lineStyle: { color: baselineColors[i], width: 3.6, join: 'round', cap: 'round' }
  });
});

// Inward tick marks, placed through the axes' own coordinate mapping
const yMinorTicks = [];
yMajorTicks.forEach(d => yMinorMultipliers.forEach(m => yMinorTicks.push(m * d)));

function tickSeries(values, dir, len) {
  return {
    type: 'custom', coordinateSystem: 'cartesian2d', silent: true, clip: false, z: 5,
    data: values.map(v => dir === 'x' ? [v, yRange[0]] : [xRange[0], v]),
    renderItem: function (params, api) {
      const p = api.coord([api.value(0), api.value(1)]);
      const shape = dir === 'x'
        ? { x1: p[0], y1: p[1], x2: p[0], y2: p[1] - len }
        : { x1: p[0], y1: p[1], x2: p[0] + len, y2: p[1] };
      return { type: 'line', shape: shape, style: { stroke: AXIS_COLOR, lineWidth: 1.3 } };
    }
  };
}
series.push(tickSeries(xMajorTicks, 'x', 8));
series.push(tickSeries(xMinorTicks, 'x', 4.5));
series.push(tickSeries(yMajorTicks, 'y', 8));
series.push(tickSeries(yMinorTicks.filter(v => v <= yRange[1]), 'y', 4.5));

function powerLabel(v) {
  const e = Math.round(Math.log10(v));
  const exp = e < 0 ? '\u2212' + (-e) : String(e);
  return '{b|10}{s|' + exp + '}';
}
const labelRich = {
  b: { fontFamily: SERIF, fontSize: 23, lineHeight: 31, verticalAlign: 'bottom', color: LABEL_COLOR },
  s: { fontFamily: SERIF, fontSize: 16, lineHeight: 16, verticalAlign: 'top', color: LABEL_COLOR, padding: [0, 0, 0, 1] }
};

const chart = echarts.init(document.getElementById('chart'), null, { renderer: 'canvas' });
chart.setOption({
  animation: false,
  backgroundColor: '#ffffff',
  grid: { left: 135, right: 0, top: 13.4, bottom: 86, outerBoundsMode: 'none', containLabel: false },
  xAxis: {
    type: 'log', logBase: 10, min: xRange[0], max: xRange[1],
    axisLine: { show: true, onZero: false, lineStyle: { color: AXIS_COLOR, width: 2 } },
    axisTick: { show: false }, minorTick: { show: false },
    splitLine: { show: false },
    axisLabel: { show: true, margin: 4, showMinLabel: false, showMaxLabel: false,
      formatter: powerLabel, rich: labelRich }
  },
  yAxis: {
    type: 'log', logBase: 10, min: yRange[0], max: yRange[1],
    axisLine: { show: true, onZero: false, lineStyle: { color: AXIS_COLOR, width: 2 } },
    axisTick: { show: false }, minorTick: { show: false },
    splitLine: { show: false },
    axisLabel: { show: true, margin: 12, showMinLabel: true, showMaxLabel: false,
      formatter: powerLabel, rich: labelRich }
  },
  graphic: [
    { type: 'text', x: 530, y: 583, silent: true,
      style: { text: 'Run-time (hours)', fontFamily: SERIF, fontSize: 45, fill: TITLE_COLOR,
        textAlign: 'center', textVerticalAlign: 'middle' } },
    { type: 'text', x: 30, y: 276, rotation: Math.PI / 2, silent: true,
      style: { text: 'Squared relative error', fontFamily: SERIF, fontSize: 45, fill: TITLE_COLOR,
        textAlign: 'center', textVerticalAlign: 'middle' } }
  ],
  series: series
});
</script>
</body>
</html>
